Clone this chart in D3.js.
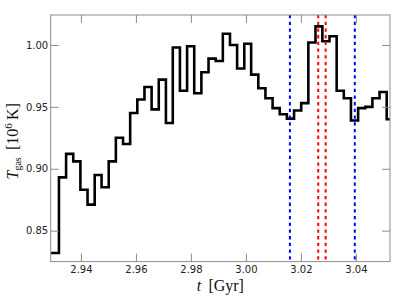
<!DOCTYPE html>
<html>
<head>
<meta charset="utf-8">
<script src="https://cdn.jsdelivr.net/npm/d3@7"></script>
<style>
  html, body { margin: 0; padding: 0; background: #fff; }
  svg { display: block; }
</style>
</head>
<body>
<div id="chart"></div>
<script>
// bin edges in Gyr (first and last are the plot limits)
const binEdges = [
  2.9290, 2.9320, 2.9346, 2.9372, 2.9398, 2.9424, 2.9450, 2.9475, 2.9501, 2.9527,
  2.9553, 2.9579, 2.9605, 2.9631, 2.9657, 2.9683, 2.9709, 2.9734, 2.9760, 2.9786,
  2.9812, 2.9838, 2.9864, 2.9890, 2.9916, 2.9942, 2.9968, 2.9994, 3.0019, 3.0045,
  3.0071, 3.0097, 3.0123, 3.0149, 3.0175, 3.0201, 3.0227, 3.0253, 3.0278, 3.0304,
  3.0330, 3.0356, 3.0382, 3.0408, 3.0434, 3.0460, 3.0486, 3.0512, 3.0524
];
// gas temperature per bin, 10^6 K
const tgas = [
  0.832, 0.893, 0.912, 0.906, 0.883, 0.871, 0.895, 0.885, 0.906, 0.925,
  0.920, 0.945, 0.956, 0.966, 0.948, 0.972, 0.937, 0.998, 0.963, 0.999,
  0.961, 0.978, 0.989, 0.987, 1.009, 1.000, 0.981, 1.001, 0.976, 0.965,
  0.957, 0.949, 0.944, 0.9405, 0.947, 0.953, 1.002, 1.015, 1.003, 1.007,
  0.963, 0.957, 0.939, 0.949, 0.950, 0.957, 0.962, 0.940
];
const blueLines = [3.0160, 3.0396];
const redLines = [3.0263, 3.0290];
const xTicks = [2.94, 2.96, 2.98, 3.00, 3.02, 3.04];
const yTicks = [0.85, 0.90, 0.95, 1.00];

const width = 399, height = 299;
const margin = { top: 15, right: 9, bottom: 37.4, left: 50.7 };
const innerW = width - margin.left - margin.right;
const innerH = height - margin.top - margin.bottom;

const svg = d3.select('#chart').append('svg')
  .attr('width', width)
  .attr('height', height);

const x = d3.scaleLinear().domain([2.929, 3.0524]).range([margin.left, margin.left + innerW]);
const y = d3.scaleLinear().domain([0.825, 1.0242]).range([margin.top + innerH, margin.top]);

const frameColor = '#8c8c8c';
const labelFont = "'DejaVu Sans', sans-serif";
const mathFont = "'Liberation Serif', 'Times New Roman', serif";

svg.append('defs').append('clipPath').attr('id', 'clip')
  .append('rect')
  .attr('x', margin.left).attr('y', margin.top)
  .attr('width', innerW).attr('height', innerH);

// step line
const points = tgas.map((v, i) => [binEdges[i], v]);
points.push([binEdges[binEdges.length - 1], tgas[tgas.length - 1]]);

const line = d3.line()
  .x((d) => x(d[0]))
  .y((d) => y(d[1]))
  .curve(d3.curveStepAfter);

const plot = svg.append('g').attr('clip-path', 'url(#clip)');

plot.append('path')
  .datum(points)
  .attr('fill', 'none')
  .attr('stroke', '#000')
  .attr('stroke-width', 2.6)
  .attr('stroke-linejoin', 'miter')
  .attr('d', line);

// vertical dashed markers
function vlines(vals, color) {
  plot.selectAll(null)
    .data(vals)
    .enter()
    .append('line')
    .attr('x1', (d) => x(d))
    .attr('x2', (d) => x(d))
    .attr('y1', margin.top)
    .attr('y2', margin.top + innerH)
    .attr('stroke', color)
    .attr('stroke-width', 2)
    .attr('stroke-dasharray', '3.3,3.4');
}
vlines(blueLines, '#0000ff');
vlines(redLines, '#ff0000');

// axes (ticks inside, on all four sides)
const tickLen = 8;
const axBottom = svg.append('g')
  .attr('transform', `translate(0,${margin.top + innerH})`)
  .call(d3.axisBottom(x).tickValues(xTicks).tickSizeInner(-tickLen).tickSizeOuter(0).tickPadding(4)
    .tickFormat(d3.format('.2f')));
const axTop = svg.append('g')
  .attr('transform', `translate(0,${margin.top})`)
  .call(d3.axisTop(x).tickValues(xTicks).tickSizeInner(-tickLen).tickSizeOuter(0).tickFormat(''));
const axLeft = svg.append('g')
  .attr('transform', `translate(${margin.left},0)`)
  .call(d3.axisLeft(y).tickValues(yTicks).tickSizeInner(-tickLen).tickSizeOuter(0).tickPadding(2.5)
    .tickFormat(d3.format('.2f')));
const axRight = svg.append('g')
  .attr('transform', `translate(${margin.left + innerW},0)`)
  .call(d3.axisRight(y).tickValues(yTicks).tickSizeInner(-tickLen).tickSizeOuter(0).tickFormat(''));

[axBottom, axTop, axLeft, axRight].forEach((ax) => {
  ax.select('.domain').remove();
  ax.selectAll('.tick line').attr('stroke', frameColor).attr('stroke-width', 1);
  ax.selectAll('.tick text')
    .attr('font-family', labelFont)
    .attr('font-size', '10px')
    .attr('fill', '#222');
});

// frame
svg.append('rect')
  .attr('x', margin.left)
  .attr('y', margin.top)
  .attr('width', innerW)
  .attr('height', innerH)
  .attr('fill', 'none')
  .attr('stroke', frameColor)
  .attr('stroke-width', 1);

// x label
const xl = svg.append('text')
  .attr('x', margin.left + innerW / 2)
  .attr('y', 291)
  .attr('text-anchor', 'middle')
  .attr('font-family', mathFont)
  .attr('font-size', '16px')
  .attr('fill', '#111');
xl.append('tspan').attr('font-style', 'italic').text('t');
xl.append('tspan').text('\u2009 [Gyr]');

// y label
const yl = svg.append('text')
  .attr('transform', `translate(18,${margin.top + innerH / 2 + 3}) rotate(-90)`)
  .attr('text-anchor', 'middle')
  .attr('font-family', mathFont)
  .attr('font-size', '16px')
  .attr('fill', '#111');
yl.append('tspan').attr('font-style', 'italic').text('T');
yl.append('tspan').attr('font-size', '10px').attr('dy', 3).text('gas');
yl.append('tspan').attr('dy', -3).text('\u2009 [10');
yl.append('tspan').attr('font-size', '11px').attr('dy', -6).text('6');
yl.append('tspan').attr('dy', 6).text('\u2009K]');
</script>
</body>
</html>
